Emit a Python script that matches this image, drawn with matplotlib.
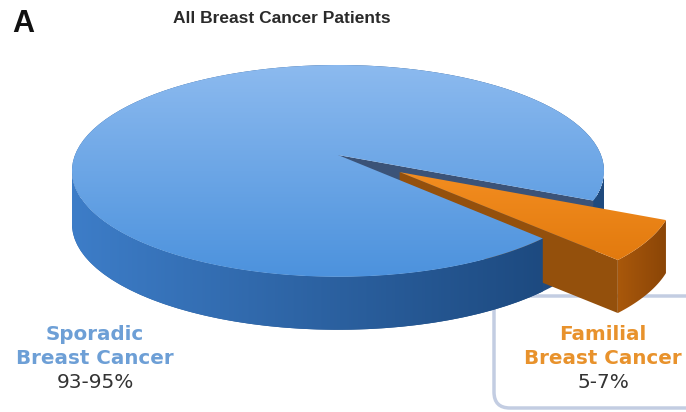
import numpy as np
import matplotlib.pyplot as plt
from matplotlib.patches import Polygon, FancyBboxPatch
from matplotlib.colors import LinearSegmentedColormap

# share of patients (midpoints of the quoted ranges)
groups = ['Sporadic\nBreast Cancer', 'Familial\nBreast Cancer']
shares = [94, 6]
ranges = ['93-95%', '5-7%']
title = 'All Breast Cancer Patients'
panel = 'A'

# pie layout in pixel space, with a mild perspective on the disc
cx, cy = 338, 155
rx, ry = 263, 103.5
persp = 0.15
depth = 53
start = -46.0
explode = 0.28


def project(X, Y, drop=0):
    k = 1.0 / (1.0 + persp * Y)
    return np.column_stack([cx + rx * X * k, cy - ry * Y * k + drop])


def rim(t, ex=0, ey=0, drop=0):
    t = np.radians(np.atleast_1d(t))
    return project(np.cos(t) + ex, np.sin(t) + ey, drop)


def apex(ex=0, ey=0, drop=0):
    return project(np.array([ex]), np.array([ey]), drop)[0]


def grad_patch(ax, verts, c0, c1, horizontal=False, z=2):
    patch = Polygon(verts, closed=True, facecolor='none', edgecolor='none', zorder=z)
    ax.add_patch(patch)
    cmap = LinearSegmentedColormap.from_list('g', [c0, c1])
    g = np.linspace(0, 1, 256)
    img = g[None, :] if horizontal else g[:, None]
    x0, y0 = verts.min(axis=0)
    x1, y1 = verts.max(axis=0)
    im = ax.imshow(img, cmap=cmap, extent=(x0, x1, y1, y0), origin='upper',
                   aspect='auto', interpolation='bicubic', zorder=z)
    im.set_clip_path(patch)


def wall(a0, a1, ex=0, ey=0):
    t = np.linspace(a0, a1, 120)
    return np.vstack([rim(t, ex, ey), rim(t[::-1], ex, ey, depth)])


def radial(a, ex=0, ey=0):
    c = apex(ex, ey)
    p = rim(a, ex, ey)[0]
    return np.array([c, p, p + [0, depth], c + [0, depth]])


fig = plt.figure(figsize=(6.86, 4.12), dpi=100)
ax = fig.add_axes([0, 0, 1, 1])

span = [s / sum(shares) * 360 for s in shares]
o0, o1 = start, start + span[1]
b0, b1 = o1, start + 360
mid = np.radians((o0 + o1) / 2)
ex, ey = explode * np.cos(mid), explode * np.sin(mid)

# silhouette angles of the side wall under this projection
sil = np.degrees(np.arcsin(persp))
front0, front1 = 180 + sil, 360 - sil

# back parts: notch face and the wall behind the exploded slice
grad_patch(ax, wall(b0, front1), '#2a5c98', '#1f4a7e', horizontal=True, z=2)
ax.add_patch(Polygon(radial(b0), closed=True, facecolor='#3b5378', zorder=2))

# sides of the exploded slice
ax.add_patch(Polygon(radial(o0, ex, ey), closed=True, facecolor='#94500c', zorder=3))
grad_patch(ax, wall(o0, o1, ex, ey), '#a9580b', '#8a4507', horizontal=True, z=3)

# big slice in front
grad_patch(ax, wall(front0, b1), '#3d7dc8', '#1d4a80', horizontal=True, z=4)
t = np.linspace(b0, b1, 300)
top = np.vstack([apex(), rim(t)])
grad_patch(ax, top, '#8cbaef', '#4c92dd', z=5)

# top of the exploded slice
t = np.linspace(o0, o1, 60)
otop = np.vstack([apex(ex, ey), rim(t, ex, ey)])
grad_patch(ax, otop, '#f38d20', '#e27a0e', z=7)

# label box on the right
ax.add_patch(FancyBboxPatch((494, 296), 210, 112, boxstyle='round,pad=0,rounding_size=16',
                            facecolor='white', edgecolor='#c3cde2', linewidth=2.5, zorder=1))

ax.text(23, 24, panel, fontsize=22, fontweight='bold', ha='center', va='center',
        family='Liberation Sans', color='#111111')
ax.text(282, 18, title, fontsize=12.5, fontweight='bold', ha='center', va='center',
        family='Liberation Sans', color='#2a2a2a')

for (name, rng, x, col) in zip(groups, ranges, [95, 603], ['#6d9fd6', '#e8922c']):
    l1, l2 = name.split('\n')
    ax.text(x, 334, l1, fontsize=14.3, fontweight='bold', color=col, ha='center', va='center')
    ax.text(x, 358, l2, fontsize=14.3, fontweight='bold', color=col, ha='center', va='center')
    ax.text(x, 382, rng, fontsize=14.5, color='#333333', ha='center', va='center')

ax.set_xlim(0, 686)
ax.set_ylim(412, 0)
ax.axis('off')
fig.savefig('out.png', dpi=100)
